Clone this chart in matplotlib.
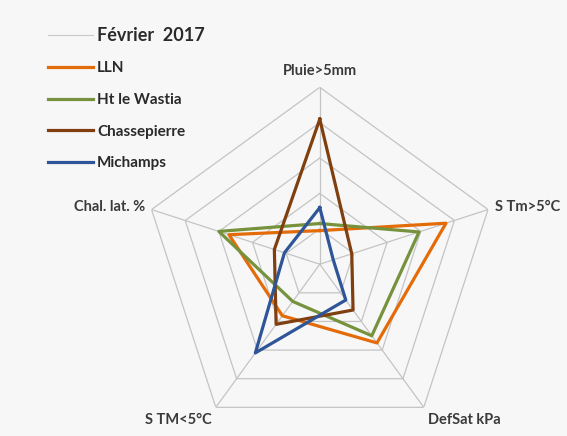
import matplotlib.pyplot as plt
import numpy as np

# axes, clockwise from the top
axes_labels = ['Pluie>5mm', 'S Tm>5°C', 'DefSat kPa', 'S TM<5°C', 'Chal. lat. %']

# normalised values (0..1)
lln = [0.19, 0.75, 0.55, 0.36, 0.54]
wastia = [0.23, 0.59, 0.50, 0.26, 0.60]
chassepierre = [0.82, 0.19, 0.32, 0.42, 0.27]
michamps = [0.32, 0.08, 0.25, 0.62, 0.21]

series = [
    ('LLN', lln, '#E36C09'),
    ('Ht le Wastia', wastia, '#76923C'),
    ('Chassepierre', chassepierre, '#7F3F0F'),
    ('Michamps', michamps, '#2E5597'),
]
ring_levels = [0.2, 0.4, 0.6, 0.8, 1.0]

plt.rcParams['font.family'] = ['Lato', 'DejaVu Sans']

fig = plt.figure(figsize=(5.67, 4.36), dpi=100, facecolor='#F7F7F7')
ax = fig.add_axes([0.252, -0.012, 0.624, 0.812], projection='polar')
ax.set_facecolor('none')

n = len(axes_labels)
theta = np.pi / 2 - np.arange(n) * 2 * np.pi / n
theta_closed = np.append(theta, theta[0])

# pentagon grid
for r in ring_levels:
    ax.plot(theta_closed, [r] * (n + 1), color='#C4C4C4', lw=0.9, zorder=1)
for t in theta:
    ax.plot([t, t], [0, 1], color='#C4C4C4', lw=0.9, zorder=1)

# empty header entry
ax.plot([], [], color='#C8C8C8', lw=0.8, label='Février  2017')
for name, vals, col in series:
    ax.plot(theta_closed, vals + vals[:1], color=col, lw=2.3, label=name, zorder=3)

ax.set_ylim(0, 1)
ax.grid(False)
ax.spines['polar'].set_visible(False)
ax.set_xticks([])
ax.set_yticks([])

lab_kw = dict(fontsize=10.5, fontweight='bold', color='#3A3A3A')
ax.text(theta[0], 1.05, axes_labels[0], ha='center', va='bottom', **lab_kw)
ax.text(theta[1], 1.04, axes_labels[1], ha='left', va='center', **lab_kw)
ax.text(theta[2], 1.04, axes_labels[2], ha='left', va='top', **lab_kw)
ax.text(theta[3], 1.04, axes_labels[3], ha='right', va='top', **lab_kw)
ax.text(theta[4], 1.04, axes_labels[4], ha='right', va='center', **lab_kw)

leg = fig.legend(loc='upper left', bbox_to_anchor=(0.061, 0.97), frameon=False,
                 handlelength=2.9, handletextpad=0.3, labelspacing=1.15,
                 prop={'size': 11, 'weight': 'bold'})
for txt in leg.get_texts():
    txt.set_color('#2A2A2A')
leg.get_texts()[0].set_fontsize(13)

fig.savefig('out.png', dpi=100, facecolor=fig.get_facecolor())
